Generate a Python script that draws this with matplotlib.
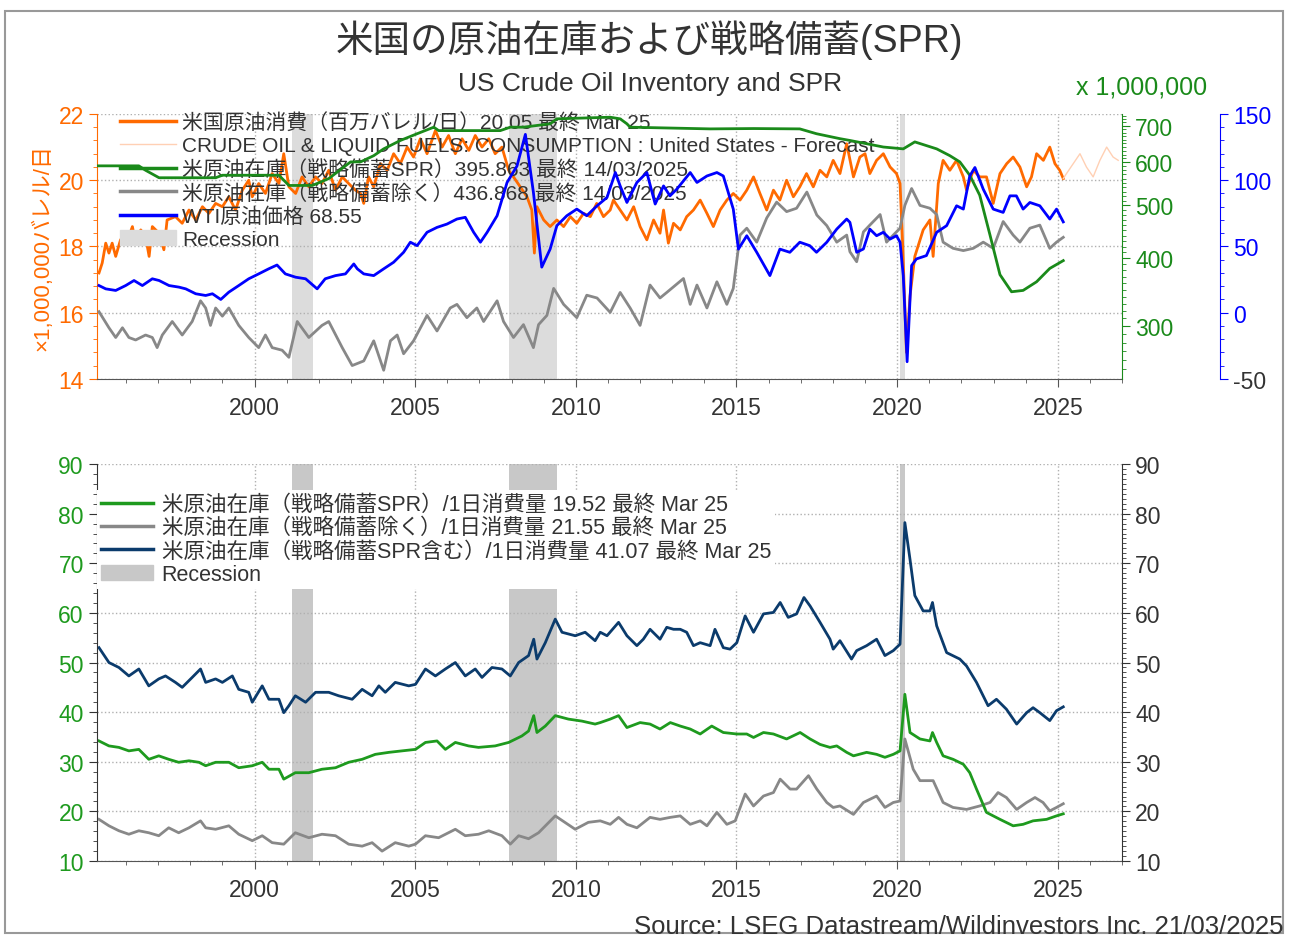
import matplotlib
matplotlib.use('Agg')
import matplotlib.pyplot as plt
from matplotlib.patches import Patch, Rectangle
from matplotlib.lines import Line2D
from matplotlib.ticker import MultipleLocator, FixedLocator, NullFormatter

plt.rcParams['font.family'] = ['Liberation Sans', 'Noto Sans CJK JP']
plt.rcParams['axes.unicode_minus'] = False

# --- top panel data ---
# US crude consumption (million b/d)
cons_t = [1995.16, 1995.26, 1995.37, 1995.47, 1995.57, 1995.68, 1995.83, 1995.99, 1996.09, 1996.2,
          1996.3, 1996.46, 1996.61, 1996.72, 1996.82, 1997.03, 1997.18, 1997.28, 1997.54, 1997.75,
          1997.96, 1998.17, 1998.38, 1998.58, 1998.79, 1999.0, 1999.2, 1999.41, 1999.62, 1999.82,
          1999.93, 2000.13, 2000.34, 2000.55, 2000.76, 2000.91, 2001.07, 2001.28, 2001.48, 2001.69,
          2001.9, 2002.1, 2002.31, 2002.52, 2002.73, 2002.93, 2003.14, 2003.3, 2003.4, 2003.55,
          2003.71, 2003.92, 2004.13, 2004.33, 2004.54, 2004.75, 2004.95, 2005.16, 2005.37, 2005.63,
          2005.84, 2006.04, 2006.25, 2006.46, 2006.67, 2006.87, 2007.08, 2007.29, 2007.49, 2007.7,
          2007.91, 2008.06, 2008.27, 2008.48, 2008.63, 2008.71, 2008.79, 2009.0, 2009.2, 2009.41,
          2009.62, 2009.83, 2010.03, 2010.24, 2010.45, 2010.65, 2010.86, 2011.07, 2011.17, 2011.38,
          2011.59, 2011.8, 2012.0, 2012.21, 2012.42, 2012.62, 2012.73, 2012.88, 2013.04, 2013.25,
          2013.45, 2013.66, 2013.87, 2014.08, 2014.28, 2014.49, 2014.7, 2014.9, 2015.11, 2015.32,
          2015.53, 2015.73, 2015.94, 2016.15, 2016.35, 2016.56, 2016.77, 2016.97, 2017.18, 2017.39,
          2017.6, 2017.81, 2018.01, 2018.22, 2018.43, 2018.64, 2018.84, 2019.0, 2019.15, 2019.36,
          2019.57, 2019.78, 2019.98, 2020.09, 2020.17, 2020.29, 2020.4, 2020.55, 2020.81, 2021.02,
          2021.12, 2021.28, 2021.43, 2021.64, 2021.85, 2022.06, 2022.16, 2022.37, 2022.57, 2022.78,
          2022.99, 2023.2, 2023.41, 2023.61, 2023.82, 2024.03, 2024.18, 2024.34, 2024.55, 2024.75,
          2024.91, 2025.06, 2025.17]
cons_v = [17.2, 17.5, 18.1, 17.8, 18.1, 17.7, 18.2, 18.4, 18.3, 18.6,
          18.1, 18.5, 18.3, 17.7, 18.6, 18.4, 17.9, 18.8, 18.9, 18.7,
          19.1, 18.8, 19.2, 19.0, 19.3, 19.2, 19.5, 19.1, 19.7, 20.0,
          19.5, 19.9, 19.6, 20.2, 19.9, 20.8, 19.8, 19.6, 20.1, 19.8,
          20.1, 19.9, 20.3, 19.7, 20.1, 19.9, 19.7, 19.6, 19.3, 20.1,
          19.8, 20.5, 20.3, 20.8, 20.5, 21.0, 20.7, 21.25, 20.8, 21.5,
          21.0, 21.35, 20.8, 21.25, 20.9, 21.35, 21.0, 21.25, 20.8, 21.0,
          20.3, 20.1, 19.8, 19.5, 19.1, 17.8, 19.2, 18.8, 18.6, 18.8,
          18.6, 18.9, 18.7, 19.0, 18.9, 19.3, 18.9, 19.1, 19.4, 19.1,
          18.8, 19.2, 18.6, 18.2, 18.8, 18.4, 19.1, 18.1, 18.7, 18.5,
          18.9, 19.1, 19.4, 19.0, 18.6, 19.1, 19.4, 19.6, 19.4, 19.7,
          20.1, 19.6, 19.1, 19.7, 19.4, 20.0, 19.5, 19.8, 20.2, 19.8,
          20.3, 20.1, 20.6, 20.2, 21.1, 20.1, 20.7, 20.8, 20.2, 20.6,
          20.8, 20.4, 20.2, 19.9, 18.1, 14.8, 16.5, 17.7, 18.5, 18.8,
          17.7, 19.9, 20.6, 20.3, 20.6, 20.1, 19.7, 20.3, 20.1, 20.1,
          19.3, 20.2, 20.5, 20.7, 20.4, 19.8, 20.1, 20.8, 20.6, 21.0,
          20.5, 20.3, 20.05]

# EIA forecast of consumption
fcst_t = [2025.17, 2025.27, 2025.48, 2025.69, 2025.89, 2026.1, 2026.31, 2026.52, 2026.72, 2026.88]
fcst_v = [20.05, 20.2, 20.5, 20.8, 20.4, 20.1, 20.6, 21.0, 20.7, 20.6]

# SPR (million bbl)
spr_t = [1995.1, 1996.4, 1996.61, 1997.03, 1998.79, 1999.0, 2000.76, 2001.07, 2001.8, 2002.31,
         2002.99, 2003.3, 2003.71, 2004.02, 2004.54, 2005.06, 2005.58, 2005.73, 2007.65, 2007.96,
         2008.37, 2009.2, 2009.41, 2011.07, 2011.38, 2011.59, 2011.69, 2014.18, 2015.53, 2016.97,
         2017.49, 2018.22, 2018.53, 2019.57, 2020.19, 2020.55, 2021.23, 2021.64, 2021.95, 2022.26,
         2022.57, 2022.89, 2023.2, 2023.56, 2023.92, 2024.34, 2024.75, 2025.17]
spr_v = [591, 591, 580, 562, 562, 568, 568, 544, 544, 560,
         601, 601, 617, 635, 658, 677, 696, 686, 686, 696,
         696, 706, 721, 726, 721, 706, 696, 691, 692, 691,
         677, 663, 658, 640, 635, 654, 635, 617, 601, 568,
         522, 441, 373, 347, 349, 362, 383, 395.863]

# Crude inventory excluding SPR (million bbl)
exspr_t = [1995.16, 1995.47, 1995.68, 1995.89, 1996.09, 1996.3, 1996.61, 1996.82, 1996.97, 1997.13,
           1997.44, 1997.75, 1998.06, 1998.32, 1998.48, 1998.63, 1998.79, 1999.0, 1999.2, 1999.51,
           1999.82, 2000.13, 2000.34, 2000.55, 2000.86, 2001.07, 2001.33, 2001.69, 2002.1, 2002.31,
           2002.73, 2003.04, 2003.4, 2003.71, 2004.02, 2004.23, 2004.44, 2004.64, 2004.95, 2005.37,
           2005.68, 2006.09, 2006.3, 2006.61, 2006.92, 2007.13, 2007.55, 2007.75, 2008.06, 2008.37,
           2008.68, 2008.84, 2009.1, 2009.31, 2009.62, 2010.03, 2010.34, 2010.66, 2011.07, 2011.38,
           2011.69, 2012.0, 2012.31, 2012.62, 2012.83, 2013.35, 2013.56, 2013.77, 2014.08, 2014.39,
           2014.7, 2014.9, 2015.11, 2015.32, 2015.63, 2015.94, 2016.25, 2016.56, 2016.87, 2017.19,
           2017.5, 2017.81, 2018.12, 2018.43, 2018.53, 2018.74, 2018.95, 2019.15, 2019.47, 2019.67,
           2019.88, 2020.09, 2020.24, 2020.45, 2020.71, 2021.02, 2021.23, 2021.43, 2021.74, 2022.06,
           2022.37, 2022.68, 2022.99, 2023.3, 2023.61, 2023.82, 2024.13, 2024.44, 2024.75, 2024.96,
           2025.17]
exspr_v = [319, 298, 286, 298, 286, 283, 289, 286, 274, 289,
           306, 289, 306, 334, 324, 301, 324, 313, 324, 301,
           286, 274, 289, 274, 271, 263, 306, 286, 301, 306,
           274, 254, 259, 282, 249, 282, 289, 267, 282, 314,
           294, 324, 329, 311, 324, 306, 334, 306, 286, 302,
           274, 302, 314, 352, 329, 311, 342, 338, 318, 346,
           324, 301, 357, 338, 346, 367, 329, 357, 324, 362,
           329, 352, 441, 454, 428, 474, 507, 487, 494, 529,
           480, 459, 428, 441, 411, 394, 447, 460, 481, 428,
           441, 454, 500, 537, 500, 494, 481, 428, 417, 413,
           417, 428, 417, 467, 441, 428, 454, 460, 417, 428,
           436.868]

# WTI price (USD)
wti_t = [1995.16, 1995.37, 1995.68, 1995.99, 1996.25, 1996.51, 1996.82, 1997.03, 1997.34, 1997.65,
         1997.86, 1998.17, 1998.48, 1998.69, 1998.95, 1999.2, 1999.51, 1999.82, 2000.13, 2000.44,
         2000.7, 2000.96, 2001.28, 2001.59, 2001.95, 2002.2, 2002.52, 2002.83, 2003.09, 2003.2,
         2003.4, 2003.71, 2004.02, 2004.33, 2004.64, 2004.85, 2005.06, 2005.37, 2005.68, 2005.99,
         2006.3, 2006.56, 2006.82, 2007.03, 2007.24, 2007.55, 2007.86, 2008.17, 2008.43, 2008.68,
         2008.94, 2009.2, 2009.41, 2009.72, 2010.03, 2010.34, 2010.66, 2010.97, 2011.23, 2011.38,
         2011.59, 2011.9, 2012.21, 2012.47, 2012.73, 2012.93, 2013.14, 2013.56, 2013.77, 2014.08,
         2014.39, 2014.59, 2014.9, 2015.06, 2015.32, 2015.63, 2016.04, 2016.35, 2016.66, 2016.97,
         2017.28, 2017.49, 2017.81, 2018.12, 2018.43, 2018.53, 2018.74, 2018.95, 2019.15, 2019.36,
         2019.57, 2019.78, 2019.98, 2020.09, 2020.19, 2020.31, 2020.45, 2020.6, 2020.91, 2021.23,
         2021.54, 2021.85, 2022.06, 2022.26, 2022.42, 2022.68, 2022.99, 2023.3, 2023.51, 2023.71,
         2023.92, 2024.13, 2024.44, 2024.75, 2024.96, 2025.17]
wti_v = [20.5, 18.0, 16.8, 20.5, 24.3, 20.5, 25.6, 24.3, 20.5, 19.3,
         18.0, 14.3, 13.0, 14.3, 10.0, 15.5, 20.5, 25.6, 29.3, 33.1,
         36.0, 29.3, 26.8, 25.6, 18.0, 25.6, 28.0, 29.3, 36.8, 33.1,
         29.3, 28.0, 33.1, 38.1, 45.6, 53.2, 50.6, 60.7, 64.4, 66.9,
         70.7, 72.0, 60.7, 53.2, 60.7, 73.2, 98.3, 110.8, 134.6, 90.8,
         34.4, 48.0, 65.7, 73.2, 78.2, 73.2, 80.7, 87.0, 105.8, 95.7,
         83.2, 98.3, 105.8, 82.0, 95.7, 88.2, 93.2, 105.8, 98.3, 103.2,
         105.8, 103.2, 78.2, 48.0, 58.1, 45.6, 28.0, 48.0, 45.6, 53.2,
         50.6, 45.6, 53.2, 63.1, 70.7, 68.2, 45.6, 48.1, 63.1, 58.1,
         60.7, 55.6, 58.1, 53.2, 28.0, -37.0, 35.6, 40.6, 43.1, 60.7,
         65.7, 80.7, 78.2, 103.2, 109.6, 93.2, 78.2, 75.7, 88.2, 88.2,
         78.2, 83.2, 80.7, 70.7, 78.2, 68.55]

# --- bottom panel data (days of consumption) ---
days_t = [1995.16, 1995.47, 1995.78, 1996.09, 1996.4, 1996.71, 1997.02, 1997.23, 1997.54, 1997.75,
          1998.06, 1998.32, 1998.48, 1998.79, 1999.0, 1999.31, 1999.51, 1999.82, 1999.93, 2000.24,
          2000.45, 2000.76, 2000.91, 2001.07, 2001.27, 2001.59, 2001.9, 2002.31, 2002.62, 2003.04,
          2003.35, 2003.66, 2003.87, 2004.07, 2004.38, 2004.8, 2005.01, 2005.32, 2005.63, 2005.94,
          2006.25, 2006.56, 2006.87, 2007.08, 2007.39, 2007.7, 2007.96, 2008.22, 2008.53, 2008.69,
          2008.79, 2009.05, 2009.36, 2009.57, 2009.98, 2010.29, 2010.6, 2010.76, 2010.97, 2011.33,
          2011.59, 2011.9, 2012.1, 2012.31, 2012.62, 2012.83, 2013.04, 2013.25, 2013.45, 2013.66,
          2013.87, 2014.18, 2014.33, 2014.59, 2014.8, 2015.01, 2015.27, 2015.53, 2015.84, 2016.15,
          2016.36, 2016.61, 2016.87, 2017.1, 2017.29, 2017.6, 2017.91, 2018.01, 2018.22, 2018.58,
          2018.74, 2019.05, 2019.36, 2019.62, 2019.88, 2020.09, 2020.24, 2020.4, 2020.55, 2020.81,
          2021.02, 2021.1, 2021.23, 2021.54, 2021.95, 2022.16, 2022.47, 2022.83, 2023.09, 2023.4,
          2023.72, 2024.03, 2024.23, 2024.44, 2024.75, 2024.96, 2025.17]
total_days = [53.0, 50.0, 49.0, 47.3, 48.7, 45.3, 46.7, 47.3, 46.0, 45.0,
              47.0, 48.7, 46.0, 46.7, 46.0, 47.3, 44.6, 44.0, 42.0, 45.3,
              42.6, 42.6, 39.9, 41.3, 43.3, 42.0, 44.0, 44.0, 43.3, 42.6,
              44.6, 43.3, 45.3, 44.0, 46.0, 45.3, 45.6, 48.7, 47.3, 48.7,
              50.0, 47.3, 48.7, 47.0, 49.0, 48.7, 47.3, 50.0, 51.4, 54.7,
              50.7, 54.0, 58.75, 56.1, 55.4, 56.1, 54.4, 56.1, 55.4, 58.1,
              55.4, 53.4, 54.7, 56.7, 54.7, 57.1, 56.7, 56.7, 56.1, 53.4,
              54.0, 53.4, 56.7, 53.0, 52.7, 54.0, 59.4, 56.1, 59.8, 60.1,
              62.1, 59.1, 59.8, 63.1, 61.4, 58.1, 54.7, 52.7, 54.4, 50.7,
              52.4, 53.4, 54.7, 51.4, 52.4, 53.7, 78.2, 70.8, 63.5, 60.4,
              60.4, 62.1, 57.4, 52.0, 50.7, 49.3, 46.0, 41.3, 42.6, 40.6,
              37.6, 39.9, 40.9, 39.9, 38.3, 40.3, 41.07]

sprd_t = [1995.16, 1995.47, 1995.78, 1996.09, 1996.4, 1996.71, 1997.02, 1997.33, 1997.64, 1997.96,
          1998.27, 1998.48, 1998.79, 1999.2, 1999.51, 1999.93, 2000.24, 2000.45, 2000.76, 2000.91,
          2001.27, 2001.69, 2002.1, 2002.52, 2002.93, 2003.35, 2003.76, 2004.18, 2004.59, 2005.01,
          2005.32, 2005.68, 2005.94, 2006.25, 2006.66, 2006.97, 2007.49, 2007.91, 2008.32, 2008.53,
          2008.69, 2008.79, 2009.05, 2009.36, 2009.77, 2010.19, 2010.6, 2010.76, 2011.07, 2011.33,
          2011.59, 2012.0, 2012.31, 2012.62, 2012.94, 2013.25, 2013.56, 2013.87, 2014.23, 2014.59,
          2015.01, 2015.32, 2015.53, 2015.84, 2016.15, 2016.56, 2016.98, 2017.29, 2017.6, 2017.91,
          2018.12, 2018.43, 2018.64, 2019.05, 2019.36, 2019.62, 2019.88, 2020.09, 2020.24, 2020.4,
          2020.71, 2021.02, 2021.1, 2021.23, 2021.43, 2021.74, 2022.06, 2022.26, 2022.47, 2022.78,
          2023.2, 2023.61, 2023.92, 2024.23, 2024.65, 2024.96, 2025.17]
spr_days = [34.2, 33.2, 32.9, 32.2, 32.5, 30.5, 31.2, 30.5, 29.9, 30.2,
            29.9, 29.2, 29.9, 29.9, 28.8, 29.2, 29.9, 28.5, 28.5, 26.5,
            27.8, 27.8, 28.5, 28.8, 29.9, 30.5, 31.5, 31.9, 32.2, 32.5,
            33.9, 34.2, 32.5, 33.9, 33.2, 32.9, 33.2, 33.9, 35.2, 36.2,
            39.3, 35.9, 37.2, 39.3, 38.6, 38.2, 37.6, 37.9, 38.6, 39.3,
            36.9, 37.9, 37.6, 36.6, 37.9, 37.2, 36.6, 35.6, 37.2, 35.9,
            35.6, 35.6, 34.9, 35.9, 35.6, 34.6, 35.9, 34.6, 33.5, 32.9,
            33.2, 31.9, 31.2, 31.9, 31.5, 30.9, 31.5, 32.2, 43.6, 35.9,
            34.6, 34.2, 35.9, 33.9, 31.2, 30.5, 29.5, 27.8, 24.5, 19.8,
            18.4, 17.1, 17.4, 18.1, 18.4, 19.1, 19.52]

exd_t = [1995.16, 1995.47, 1995.78, 1996.09, 1996.4, 1996.71, 1997.02, 1997.33, 1997.64, 1997.96,
         1998.32, 1998.48, 1998.79, 1999.2, 1999.51, 1999.93, 2000.24, 2000.55, 2000.91, 2001.27,
         2001.69, 2002.1, 2002.52, 2002.93, 2003.35, 2003.66, 2003.97, 2004.38, 2004.8, 2005.01,
         2005.32, 2005.73, 2006.25, 2006.56, 2006.97, 2007.29, 2007.7, 2007.96, 2008.22, 2008.53,
         2008.84, 2009.36, 2009.98, 2010.39, 2010.76, 2011.07, 2011.33, 2011.59, 2011.9, 2012.31,
         2012.62, 2012.94, 2013.25, 2013.56, 2013.87, 2014.08, 2014.39, 2014.7, 2014.96, 2015.27,
         2015.53, 2015.84, 2016.15, 2016.36, 2016.67, 2016.87, 2017.24, 2017.5, 2017.81, 2018.01,
         2018.22, 2018.64, 2018.95, 2019.36, 2019.62, 2019.88, 2020.09, 2020.24, 2020.5, 2020.71,
         2021.12, 2021.43, 2021.74, 2022.16, 2022.57, 2022.89, 2023.14, 2023.4, 2023.72, 2024.03,
         2024.29, 2024.54, 2024.75, 2024.96, 2025.17]
exspr_days = [18.4, 17.1, 16.1, 15.4, 16.1, 15.7, 15.1, 16.7, 15.7, 16.7,
              18.1, 16.7, 16.4, 17.1, 15.4, 14.1, 15.1, 13.7, 13.4, 15.7,
              14.7, 15.4, 15.1, 13.4, 13.0, 13.7, 12.0, 13.7, 13.0, 13.4,
              15.1, 14.7, 16.4, 15.1, 15.4, 16.1, 15.1, 13.4, 15.1, 14.5,
              15.7, 19.1, 16.4, 17.8, 18.1, 17.4, 18.8, 17.4, 16.7, 18.8,
              18.4, 18.8, 19.1, 17.4, 18.1, 17.1, 19.8, 17.4, 18.1, 23.5,
              21.1, 23.1, 23.8, 26.5, 24.5, 24.5, 27.2, 24.5, 21.8, 20.8,
              21.1, 19.4, 21.8, 23.1, 20.8, 21.8, 22.1, 34.6, 28.5, 26.2,
              26.2, 21.8, 20.8, 20.4, 21.1, 21.8, 23.8, 22.8, 20.4, 21.8,
              22.8, 21.8, 20.1, 20.8, 21.55]

recessions = [(2001.17, 2001.83), (2007.92, 2009.42), (2020.08, 2020.25)]

ORANGE = '#ff6a00'
GREEN = '#1a8a1a'
BLUE = '#0000ff'
GRAY = '#888888'
NAVY = '#0b3b6c'
TXT = '#333333'

fig = plt.figure(figsize=(12.89, 9.37), dpi=100)
fig.patches.append(Rectangle((0.004, 0.003), 0.991, 0.984, transform=fig.transFigure,
                             fill=False, edgecolor='#999999', lw=1.5))

fig.text(0.504, 0.957, '米国の原油在庫および戦略備蓄(SPR)', ha='center', va='center',
         fontsize=27, color=TXT)
fig.text(0.504, 0.910, 'US Crude Oil Inventory and SPR', ha='center', va='center',
         fontsize=19, color=TXT)
fig.text(0.886, 0.907, 'x 1,000,000', ha='center', va='center', fontsize=18, color=GREEN)
fig.text(0.996, 0.011, 'Source: LSEG Datastream/Wildinvestors Inc. 21/03/2025', ha='right',
         va='center', fontsize=18.5, color=TXT)

# ---------------- top panel ----------------
ax1 = fig.add_axes([0.0753, 0.5945, 0.7952, 0.2828])
for a, b in recessions:
    ax1.axvspan(a, b, color='#dcdcdc', lw=0, zorder=0)
ax1.plot(cons_t, cons_v, color=ORANGE, lw=2)
ax1.plot(fcst_t, fcst_v, color='#ffd0b4', lw=1)
ax1.set_xlim(1995.1, 2027.0)
ax1.set_ylim(14, 22)
ax1.set_yticks([14, 16, 18, 20, 22])
ax1.yaxis.set_minor_locator(MultipleLocator(0.4))
ax1.set_xticks(range(2000, 2026, 5))
ax1.xaxis.set_minor_locator(MultipleLocator(1))
ax1.tick_params(axis='y', which='both', colors=ORANGE, labelsize=16.5, direction='out')
ax1.tick_params(axis='x', which='both', colors='#555555', labelcolor=TXT, labelsize=16.5, pad=6)
ax1.tick_params(which='major', length=6)
ax1.tick_params(which='minor', length=3)
ax1.grid(True, which='major', ls=':', color='#b0b0b0', lw=1)
ax1.spines['left'].set_color(ORANGE)
ax1.spines['bottom'].set_color('#555555')
ax1.spines['top'].set_visible(False)
ax1.spines['right'].set_visible(False)
ax1.set_ylabel('×1,000,000バレル/日', color=ORANGE, fontsize=16)
ax1.yaxis.set_label_coords(-0.043, 0.5)

ax2 = ax1.twinx()
ax2.set_yscale('log')
ax2.plot(exspr_t, exspr_v, color=GRAY, lw=2)
ax2.plot(spr_t, spr_v, color=GREEN, lw=2)
ax2.set_ylim(240, 736)
ax2.yaxis.set_major_locator(FixedLocator([300, 400, 500, 600, 700]))
ax2.yaxis.set_major_formatter(plt.FuncFormatter(lambda v, p: '%d' % v))
ax2.yaxis.set_minor_locator(FixedLocator(list(range(250, 740, 10))))
ax2.yaxis.set_minor_formatter(NullFormatter())
ax2.tick_params(axis='y', which='both', colors=GREEN, labelsize=16.5)
ax2.tick_params(which='major', length=6)
ax2.tick_params(which='minor', length=3)
for s in ['left', 'top', 'bottom']:
    ax2.spines[s].set_visible(False)
ax2.spines['right'].set_color(GREEN)

ax3 = ax1.twinx()
ax3.spines['right'].set_position(('axes', 1.0956))
ax3.plot(wti_t, wti_v, color=BLUE, lw=2)
ax3.set_ylim(-50, 150)
ax3.set_yticks([-50, 0, 50, 100, 150], ['-50', '0', '50', '100', '150'])
ax3.yaxis.set_minor_locator(MultipleLocator(10))
ax3.tick_params(axis='y', which='both', colors=BLUE, labelsize=16.5)
ax3.tick_params(which='major', length=6)
ax3.tick_params(which='minor', length=3)
for s in ['left', 'top', 'bottom']:
    ax3.spines[s].set_visible(False)
ax3.spines['right'].set_color(BLUE)
ax3.get_yticklabels()[0].set_color(TXT)

top_handles = [Line2D([], [], color=ORANGE, lw=2.5), Line2D([], [], color='#ffd0b4', lw=1),
               Line2D([], [], color=GREEN, lw=2.5), Line2D([], [], color=GRAY, lw=2.5),
               Line2D([], [], color=BLUE, lw=2.5), Patch(color='#dcdcdc')]
top_labels = ['米国原油消費（百万バレル/日）20.05 最終 Mar 25',
              'CRUDE OIL & LIQUID FUELS: CONSUMPTION : United States - Forecast',
              '米原油在庫（戦略備蓄SPR）395.863 最終 14/03/2025',
              '米原油在庫（戦略備蓄除く）436.868 最終 14/03/2025',
              'WTI原油価格 68.55',
              'Recession']
leg1 = ax1.legend(top_handles, top_labels, loc='upper left', bbox_to_anchor=(0.022, 1.005),
                  frameon=False, fontsize=15, handlelength=2.7, labelspacing=0.18,
                  handletextpad=0.3, borderpad=0, borderaxespad=0)
for t in leg1.get_texts():
    t.set_color(TXT)

# ---------------- bottom panel ----------------
ax4 = fig.add_axes([0.0753, 0.080, 0.7952, 0.4237])
for a, b in recessions:
    ax4.axvspan(a, b, color='#c8c8c8', lw=0, zorder=0)
ax4.plot(exd_t, exspr_days, color=GRAY, lw=2)
ax4.plot(sprd_t, spr_days, color='#1e9a1e', lw=2)
ax4.plot(days_t, total_days, color=NAVY, lw=2)
ax4.set_xlim(1995.1, 2027.0)
ax4.set_ylim(10, 90)
ax4.set_yticks(range(10, 91, 10))
ax4.yaxis.set_minor_locator(MultipleLocator(2))
ax4.set_xticks(range(2000, 2026, 5))
ax4.xaxis.set_minor_locator(MultipleLocator(1))
ax4.tick_params(axis='y', which='both', colors='#333333', labelcolor='#1e9a1e', labelsize=16.5)
ax4.tick_params(axis='x', which='both', colors='#555555', labelcolor=TXT, labelsize=16.5, pad=6)
ax4.tick_params(which='major', length=6)
ax4.tick_params(which='minor', length=3)
ax4.grid(True, which='major', ls=':', color='#b0b0b0', lw=1)
ax4.spines['top'].set_visible(False)
ax4.spines['right'].set_visible(False)
ax4.spines['left'].set_color('#333333')
ax4.spines['bottom'].set_color('#555555')

ax5 = ax4.twinx()
ax5.set_ylim(10, 90)
ax5.set_yticks(range(10, 91, 10))
ax5.yaxis.set_minor_locator(MultipleLocator(1))
ax5.tick_params(axis='y', which='both', colors='#333333', labelcolor=TXT, labelsize=16.5)
ax5.tick_params(which='major', length=6)
ax5.tick_params(which='minor', length=3)
for s in ['left', 'top', 'bottom']:
    ax5.spines[s].set_visible(False)
ax5.spines['right'].set_color('#333333')

bot_handles = [Line2D([], [], color='#1e9a1e', lw=2.5), Line2D([], [], color=GRAY, lw=2.5),
               Line2D([], [], color=NAVY, lw=2.5), Patch(color='#c8c8c8')]
bot_labels = ['米原油在庫（戦略備蓄SPR）/1日消費量 19.52 最終 Mar 25',
              '米原油在庫（戦略備蓄除く）/1日消費量 21.55 最終 Mar 25',
              '米原油在庫（戦略備蓄SPR含む）/1日消費量 41.07 最終 Mar 25',
              'Recession']
leg2 = ax4.legend(bot_handles, bot_labels, loc='upper left', bbox_to_anchor=(0.0, 0.935),
                  frameon=True, fancybox=False, edgecolor='none', facecolor='white',
                  framealpha=1, fontsize=15.5, handlelength=2.4, labelspacing=0.1,
                  handletextpad=0.4, borderpad=0.2, borderaxespad=0)
for t in leg2.get_texts():
    t.set_color(TXT)

fig.savefig('out.png', dpi=100)
